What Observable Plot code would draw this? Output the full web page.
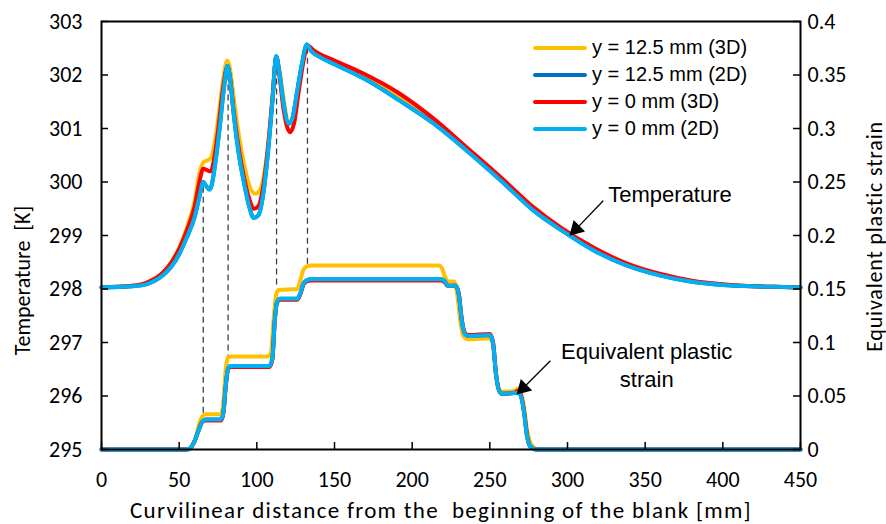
<!DOCTYPE html>
<html><head><meta charset="utf-8">
<script src="https://cdn.jsdelivr.net/npm/d3@7"></script>
<script src="https://cdn.jsdelivr.net/npm/@observablehq/plot@0.6"></script>
<style>
body{margin:0;background:#fff;}
#wrap{position:relative;width:886px;height:524px;}
#legend{position:absolute;left:533px;top:34px;font-family:Arial,"Liberation Sans",sans-serif;font-size:20px;color:#000;}
#legend .row{height:27px;display:flex;align-items:center;white-space:nowrap;}
#legend .sw{width:54px;height:4px;margin-right:5px;border-radius:2px;}
</style></head><body><div id="wrap"></div>
<script>
// ---------- data ----------
const seriesNames = ["y = 12.5 mm (3D)", "y = 12.5 mm (2D)", "y = 0 mm (3D)", "y = 0 mm (2D)"];
const seriesColors = ["#FFC000", "#0070C0", "#FF0000", "#00B0F0"];

const xTicks = [0, 50, 100, 150, 200, 250, 300, 350, 400, 450];
const tempTicks = [295, 296, 297, 298, 299, 300, 301, 302, 303];
const strainTicks = [0, 0.05, 0.1, 0.15, 0.2, 0.25, 0.3, 0.35, 0.4];
const strainLabels = ["0", "0.05", "0.1", "0.15", "0.2", "0.25", "0.3", "0.35", "0.4"];

// temperature [K] vs distance [mm]
const temp3D_125 = [[0,298.03],[20,298.06],[30,298.13],[40,298.32],[45,298.5],[50,298.77],[55,299.15],[60,299.65],[63,300.15],[65.5,300.37],[68,300.4],[70.5,300.45],[72,300.6],[75,301.15],[78,301.85],[81,302.27],[82.5,302.15],[85,301.6],[88,300.95],[92,300.3],[95,299.95],[99,299.78],[102,299.85],[105,300.2],[108,300.9],[110.5,301.7],[112.5,302.33],[114.5,302.1],[117,301.6],[120.5,301.1],[123,301.2],[126,301.7],[129,302.2],[132.4,302.55],[136,302.45],[150,302.24],[167,302.0],[192,301.6],[214,301.14],[235,300.62],[257,300.06],[278,299.5],[296,299.12],[317,298.75],[338,298.46],[360,298.27],[381,298.14],[403,298.08],[433,298.04],[450,298.03]];
const temp2D_125 = [[0,298.03],[20,298.05],[30,298.1],[40,298.27],[45,298.42],[50,298.65],[55,298.97],[60,299.35],[63,299.72],[65.5,300.0],[67.5,299.92],[69.5,299.86],[71,299.95],[73,300.3],[76,301.0],[79,301.8],[81,302.17],[82.5,302.0],[85,301.3],[88,300.6],[92,299.95],[95,299.55],[98,299.33],[101,299.38],[104,299.75],[107,300.5],[110,301.5],[112.5,302.35],[114.5,302.05],[117,301.5],[120.5,301.09],[123,301.2],[126,301.7],[129,302.2],[132.2,302.57],[135,302.45],[141,302.33],[150,302.2],[171,301.9],[192,301.52],[214,301.09],[235,300.59],[257,300.03],[278,299.47],[296,299.1],[317,298.72],[338,298.44],[360,298.25],[381,298.13],[403,298.07],[433,298.04],[450,298.03]];
const temp3D_0 = [[0,298.03],[20,298.06],[30,298.13],[40,298.32],[45,298.5],[50,298.75],[55,299.1],[60,299.55],[63,300.0],[65.5,300.25],[68,300.22],[70.5,300.2],[72,300.35],[75,300.95],[78,301.7],[81,302.15],[82.5,302.0],[85,301.35],[88,300.7],[92,300.05],[95,299.7],[98,299.5],[101,299.55],[104,299.9],[107,300.6],[110,301.55],[112.5,302.33],[114.5,302.0],[117,301.4],[121.5,300.93],[124,301.1],[127,301.7],[130,302.25],[132.6,302.55],[137,302.45],[150,302.27],[167,302.05],[192,301.65],[214,301.18],[235,300.65],[257,300.09],[278,299.53],[296,299.14],[317,298.77],[338,298.48],[360,298.28],[381,298.15],[403,298.08],[433,298.04],[450,298.03]];
const temp2D_0 = [[0,298.03],[20,298.05],[30,298.1],[40,298.27],[45,298.42],[50,298.65],[55,298.97],[60,299.35],[63,299.72],[65.5,300.0],[67.5,299.92],[69.5,299.86],[71,299.95],[73,300.3],[76,301.0],[79,301.8],[81,302.17],[82.5,302.0],[85,301.3],[88,300.6],[92,299.95],[95,299.55],[98,299.33],[101,299.38],[104,299.75],[107,300.5],[110,301.5],[112.5,302.35],[114.5,302.05],[117,301.5],[120.5,301.09],[123,301.2],[126,301.7],[129,302.2],[132.2,302.57],[135,302.45],[141,302.33],[150,302.2],[171,301.9],[192,301.52],[214,301.09],[235,300.59],[257,300.03],[278,299.47],[296,299.1],[317,298.72],[338,298.44],[360,298.25],[381,298.13],[403,298.07],[433,298.04],[450,298.03]];

// equivalent plastic strain vs distance [mm]
const strain3D_125 = [[0,0],[56,0],[58,0.003],[61,0.012],[63,0.025],[65,0.031],[67,0.033],[77,0.033],[78.5,0.045],[80,0.075],[81.5,0.086],[83,0.087],[107,0.087],[109,0.09],[111,0.125],[112.5,0.145],[114,0.149],[126,0.15],[128,0.158],[130,0.168],[132,0.171],[135,0.172],[217,0.172],[219,0.17],[221,0.162],[223,0.157],[227,0.157],[229,0.145],[231,0.12],[233,0.106],[236,0.103],[250,0.104],[252,0.098],[254,0.07],[256,0.056],[258,0.054],[266,0.055],[268,0.057],[270,0.053],[272,0.04],[274,0.018],[277,0.004],[281,0],[450,0]];
const strain2D_125 = [[0,0],[55,0],[57,0.001],[60,0.008],[63,0.02],[65,0.026],[67,0.028],[77,0.028],[78.5,0.035],[80,0.06],[81.5,0.076],[83,0.078],[108,0.078],[110,0.085],[111.5,0.12],[113,0.138],[115,0.141],[126,0.141],[128,0.146],[130,0.155],[132,0.158],[135,0.159],[219,0.159],[221,0.157],[223,0.153],[228,0.153],[230,0.145],[232,0.12],[234,0.108],[236,0.106],[250,0.107],[252,0.1],[254,0.07],[256,0.055],[258,0.052],[268,0.053],[270,0.05],[272,0.035],[274,0.012],[276,0.003],[280,0],[450,0]];
const strain3D_0 = [[0,0],[55,0],[57,0.001],[60,0.008],[63,0.02],[65,0.026],[67,0.027],[77,0.027],[78.5,0.034],[80,0.059],[81.5,0.075],[83,0.077],[108,0.077],[110,0.084],[111.5,0.119],[113,0.137],[115,0.14],[126,0.14],[128,0.145],[130,0.154],[132,0.157],[135,0.158],[219,0.158],[221,0.156],[223,0.153],[228,0.153],[230,0.146],[232,0.121],[234,0.109],[236,0.107],[250,0.108],[252,0.101],[254,0.07],[256,0.055],[258,0.052],[266,0.053],[268,0.055],[270,0.051],[272,0.036],[274,0.013],[276,0.003],[280,0],[450,0]];
const strain2D_0 = [[0,0],[55,0],[57,0.001],[60,0.008],[63,0.02],[65,0.026],[67,0.028],[77,0.028],[78.5,0.035],[80,0.06],[81.5,0.076],[83,0.078],[108,0.078],[110,0.085],[111.5,0.12],[113,0.138],[115,0.141],[126,0.141],[128,0.146],[130,0.155],[132,0.158],[135,0.159],[219,0.159],[221,0.157],[223,0.153],[228,0.153],[230,0.145],[232,0.12],[234,0.108],[236,0.106],[250,0.107],[252,0.1],[254,0.07],[256,0.055],[258,0.052],[268,0.053],[270,0.05],[272,0.035],[274,0.012],[276,0.003],[280,0],[450,0]];

// dashed guide lines: position [mm], top temperature [K], bottom strain
const guideX = [65.5, 81.5, 112.7, 132.6];
const guideTopT = [299.9, 302.0, 302.3, 302.5];
const guideBottomStrain = [0.033, 0.087, 0.15, 0.171];

// annotations
const annoTexts = ["Temperature", "Equivalent plastic\nstrain"];
const annoX = [366, 351];
const annoT = [299.8, 296.6];
const arrowFromX = [323, 289];
const arrowFromT = [299.65, 296.66];
const arrowToX = [305.5, 271.5];
const arrowToT = [299.12, 296.15];

const xTitle = "Curvilinear distance from the  beginning of the blank [mm]";
const yTitle = "Temperature  [K]";
const y2Title = "Equivalent plastic strain";

// ---------- build ----------
const W = 886, H = 524, mL = 101, mR = 86, mT = 21, mB = 75;
const innerW = W - mL - mR, innerH = H - mT - mB;
const s2t = d3.scaleLinear().domain([strainTicks[0], strainTicks[strainTicks.length-1]]).range([tempTicks[0], tempTicks[tempTicks.length-1]]);

const tempSeries = [temp3D_125, temp2D_125, temp3D_0, temp2D_0];
const strainSeries = [strain3D_125, strain2D_125, strain3D_0, strain2D_0];
const rows = [];
tempSeries.forEach((arr, k) => arr.forEach(([x, v]) => rows.push({key: "T" + k, s: k, x, y: v})));
strainSeries.forEach((arr, k) => arr.forEach(([x, v]) => rows.push({key: "S" + k, s: k, x, y: s2t(v)})));

const order = [0, 1, 2, 3];
const lineMarks = [];
for (const k of order) {
  lineMarks.push(Plot.line(rows.filter(r => r.key === "S" + k), {x: "x", y: "y", stroke: seriesColors[k], strokeWidth: 4, curve: "monotone-x"}));
}
for (const k of order) {
  lineMarks.push(Plot.line(rows.filter(r => r.key === "T" + k), {x: "x", y: "y", stroke: seriesColors[k], strokeWidth: 4, curve: "monotone-x"}));
}

const gIdx = guideX.map((_, i) => i);
const aIdx = annoTexts.map((_, i) => i);
const font = "Carlito, 'Liberation Sans Narrow', 'Roboto Condensed', 'Open Sans', sans-serif";
const aFont = "Arial, 'Liberation Sans', sans-serif";

const chart = Plot.plot({
  width: W, height: H,
  marginLeft: mL, marginRight: mR, marginTop: mT, marginBottom: mB,
  x: {domain: [xTicks[0], xTicks[xTicks.length-1]], axis: null},
  y: {domain: [tempTicks[0], tempTicks[tempTicks.length-1]], axis: null},
  style: {fontFamily: font, fontSize: "22px", color: "#000", background: "#fff", overflow: "visible"},
  marks: [
    Plot.ruleX(gIdx, {x: i => guideX[i], y1: i => guideTopT[i], y2: i => s2t(guideBottomStrain[i]), stroke: "#404040", strokeWidth: 1.3, strokeDasharray: "6,4"}),
    ...lineMarks,
    Plot.frame({stroke: "#000", strokeWidth: 2}),
    Plot.tickY(tempTicks, {y: d => d, insetRight: innerW - 7, stroke: "#000", strokeWidth: 1.5}),
    Plot.tickY(tempTicks, {y: d => d, insetLeft: innerW - 7, stroke: "#000", strokeWidth: 1.5}),
    Plot.tickX(xTicks, {x: d => d, insetTop: innerH - 7, stroke: "#000", strokeWidth: 1.5}),
    Plot.axisX(xTicks, {tickSize: 0, tickPadding: 22, fontSize: 22, label: null, tickFormat: d => String(d)}),
    Plot.axisY(tempTicks, {anchor: "left", tickSize: 0, tickPadding: 19, fontSize: 22, label: null, tickFormat: d => String(d)}),
    Plot.axisY(tempTicks, {anchor: "right", tickSize: 0, tickPadding: 7, fontSize: 22, label: null,
      tickFormat: d => strainLabels[tempTicks.indexOf(d)]}),
    Plot.text([xTitle], {frameAnchor: "bottom", dx: -10, dy: 61, fontSize: 23, lineAnchor: "middle", textAnchor: "middle", className: "ttl-x"}),
    Plot.text([yTitle], {frameAnchor: "left", dx: -79, dy: 45, rotate: -90, fontSize: 22, lineAnchor: "middle", textAnchor: "middle"}),
    Plot.text([y2Title], {frameAnchor: "right", dx: 74, dy: 1, rotate: -90, fontSize: 22, lineAnchor: "middle", textAnchor: "middle", className: "ttl-y2"}),
    Plot.link(aIdx, {x1: i => arrowFromX[i], y1: i => arrowFromT[i], x2: i => arrowToX[i], y2: i => arrowToT[i], stroke: "#000", strokeWidth: 1.3}),
    Plot.dot(aIdx, {x: i => arrowToX[i], y: i => arrowToT[i], symbol: "triangle", r: 6, fill: "#000", stroke: null, rotate: 225}),
    Plot.text(aIdx, {x: i => annoX[i], y: i => annoT[i], text: i => annoTexts[i], fontFamily: aFont, fontSize: 22, lineHeight: 1.3, fill: "#000"})
  ]
});
d3.select(chart).selectAll(".ttl-x text").attr("letter-spacing", "1.3px");
d3.select(chart).selectAll(".ttl-y2 text").attr("letter-spacing", "0.8px");
const wrap = document.getElementById("wrap");
wrap.appendChild(chart);

const legend = document.createElement("div");
legend.id = "legend";
seriesNames.forEach((name, k) => {
  const row = document.createElement("div");
  row.className = "row";
  const sw = document.createElement("div");
  sw.className = "sw";
  sw.style.background = seriesColors[k];
  const t = document.createElement("span");
  t.textContent = name;
  row.appendChild(sw); row.appendChild(t);
  legend.appendChild(row);
});
wrap.appendChild(legend);
</script>
</body></html>
